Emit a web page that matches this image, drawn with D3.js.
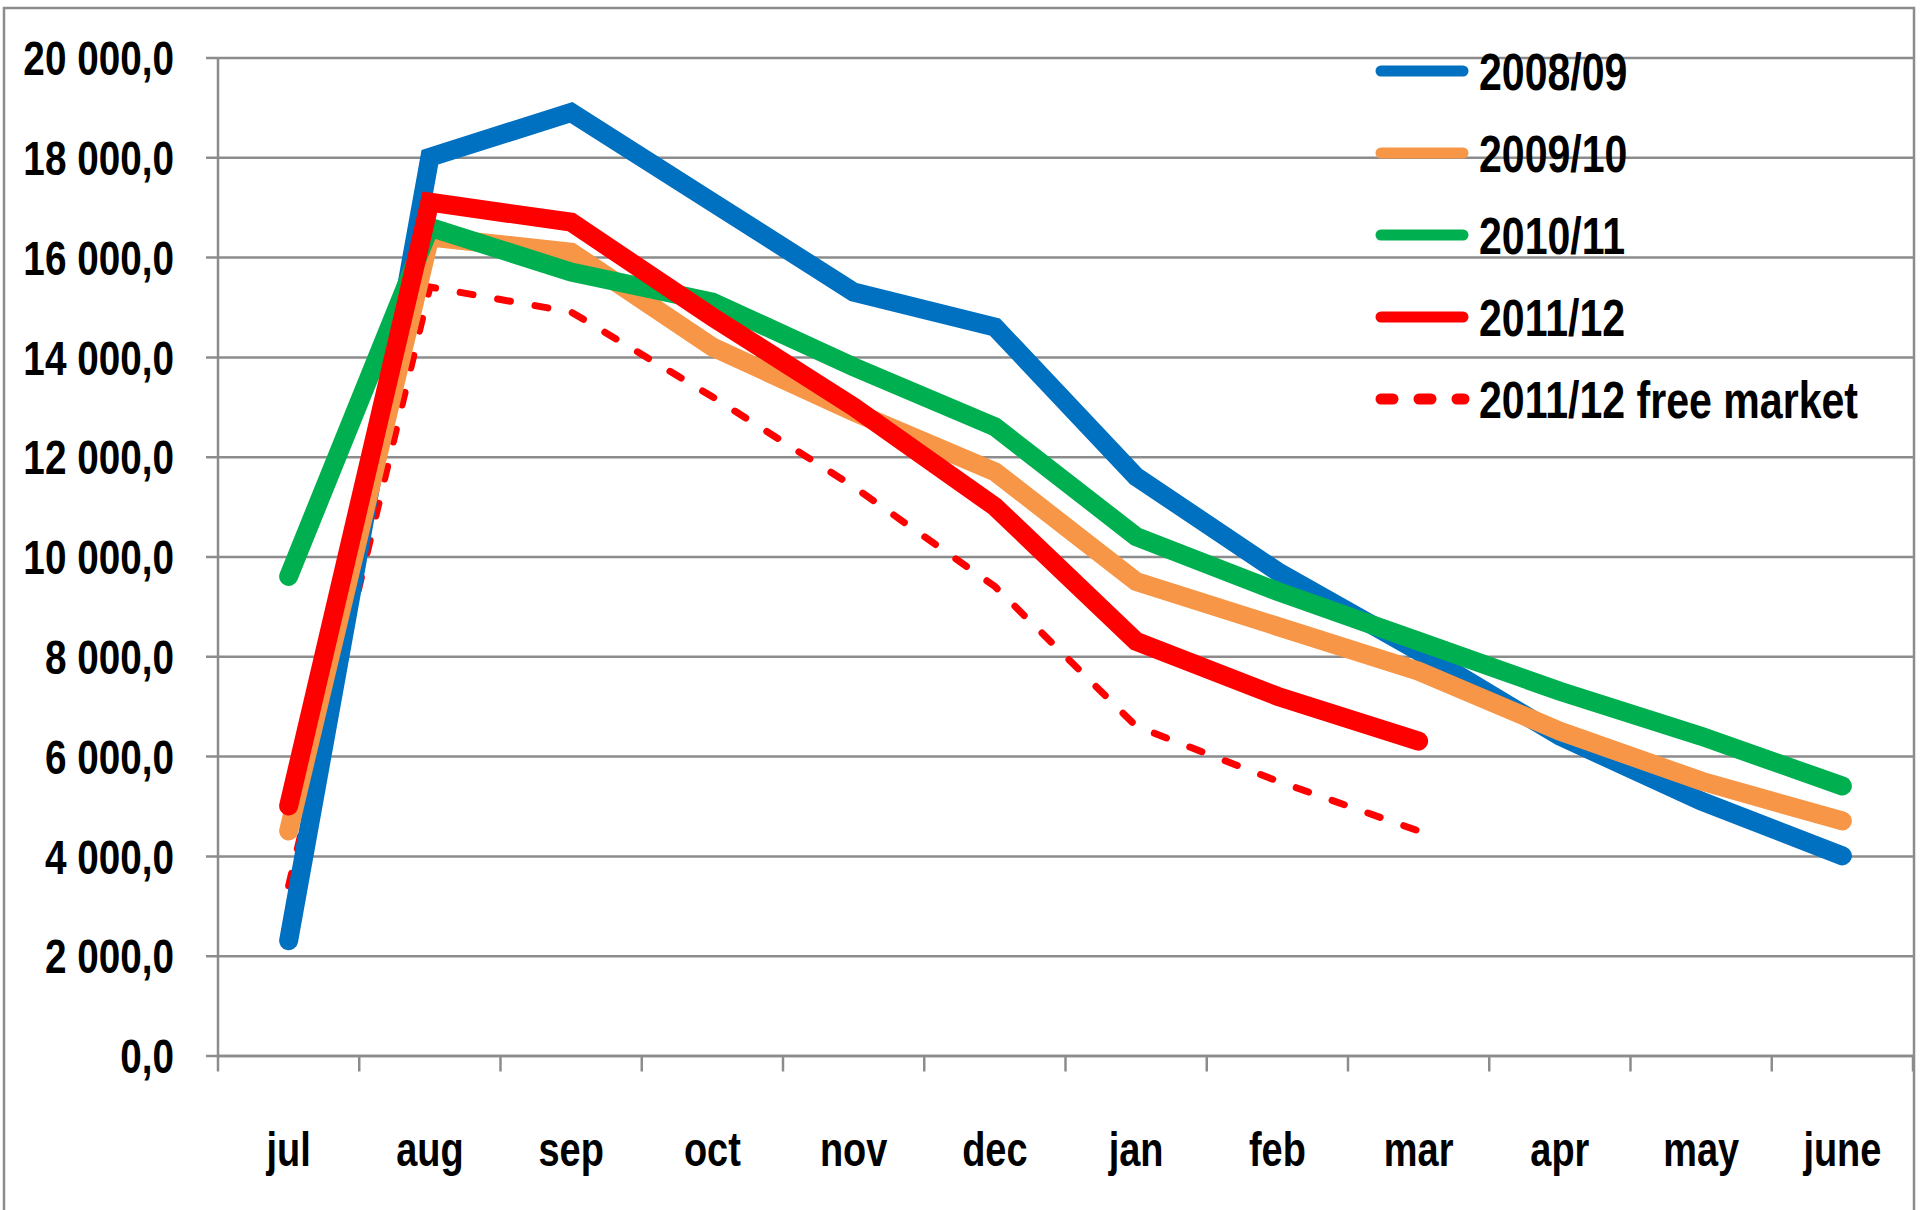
<!DOCTYPE html>
<html>
<head>
<meta charset="utf-8">
<script src="https://cdn.jsdelivr.net/npm/d3@7"></script>
<style>
  body { margin: 0; background: #fff; }
  text { font-family: "Liberation Sans", Arial, sans-serif; font-weight: bold; fill: #000; }
</style>
</head>
<body>
<div id="chart"></div>
<script>
var months = ["jul", "aug", "sep", "oct", "nov", "dec", "jan", "feb", "mar", "apr", "may", "june"];
var yTicks = [0, 2000, 4000, 6000, 8000, 10000, 12000, 14000, 16000, 18000, 20000];

var s0809 = [2300, 18000, 18900, 17100, 15300, 14600, 11600, 9700, 8100, 6400, 5100, 4000];
var s0910 = [4500, 16400, 16100, 14200, 12900, 11700, 9500, 8600, 7700, 6500, 5500, 4700];
var s1011 = [9600, 16600, 15700, 15100, 13800, 12600, 10400, 9300, 8300, 7300, 6400, 5400];
var s1112 = [5000, 17100, 16700, 14800, 13000, 11000, 8300, 7200, 6300];
var s1112free = [3400, 15400, 14900, 13200, 11400, 9400, 6600, 5500, 4500];

var seriesNames = ["2008/09", "2009/10", "2010/11", "2011/12", "2011/12 free market"];

var svgWidth = 1920;
var svgHeight = 1210;

// the reference font is a condensed bold face, squeeze a regular one
var squeeze = 0.79;

var margin = { top: 57.5, right: 7, bottom: 154.5, left: 218 };
var chartWidth = svgWidth - margin.left - margin.right;
var chartHeight = svgHeight - margin.top - margin.bottom;

var svg = d3.select("#chart")
    .append("svg")
    .attr("width", svgWidth)
    .attr("height", svgHeight);

// outer frame
svg.append("rect")
    .attr("x", 4)
    .attr("y", 8)
    .attr("width", 1910)
    .attr("height", 1230)
    .attr("fill", "none")
    .attr("stroke", "#8c8c8c")
    .attr("stroke-width", 2.5);

var chartGroup = svg.append("g")
    .attr("transform", `translate(${margin.left}, ${margin.top})`);

var xBand = d3.scaleBand()
    .domain(months)
    .range([0, chartWidth]);

var yScale = d3.scaleLinear()
    .domain([0, 20000])
    .range([chartHeight, 0]);

var fmt = function(v) {
    var s = d3.format(",.1f")(v);
    return s.replace(/,/g, " ").replace(".", ",");
};

// gridlines + left axis ticks
var leftAxis = d3.axisLeft(yScale)
    .tickValues(yTicks)
    .tickSize(-chartWidth)
    .tickFormat("");

chartGroup.append("g")
    .attr("class", "grid")
    .call(leftAxis)
    .call(g => g.select(".domain").remove())
    .call(g => g.selectAll("line")
        .attr("stroke", "#8c8c8c")
        .attr("stroke-width", 2.5)
        .attr("x1", -12));

chartGroup.selectAll("text.ylab")
    .data(yTicks)
    .enter()
    .append("text")
    .classed("ylab", true)
    .attr("transform", d => `translate(-44, ${yScale(d)}) scale(${squeeze}, 1)`)
    .attr("dy", "0.36em")
    .attr("text-anchor", "end")
    .attr("font-size", "49px")
    .text(d => fmt(d));

// y axis line
chartGroup.append("line")
    .attr("x1", 0).attr("x2", 0)
    .attr("y1", 0).attr("y2", chartHeight)
    .attr("stroke", "#8c8c8c")
    .attr("stroke-width", 2.5);

// bottom axis
var bottomAxis = d3.axisBottom(xBand)
    .tickSize(0)
    .tickFormat("");

chartGroup.append("g")
    .attr("transform", `translate(0, ${chartHeight})`)
    .call(bottomAxis)
    .call(g => g.select(".domain")
        .attr("stroke", "#8c8c8c")
        .attr("stroke-width", 2.5));

var boundaries = d3.range(months.length + 1).map(i => i * xBand.bandwidth());
chartGroup.selectAll("line.xtick")
    .data(boundaries)
    .enter()
    .append("line")
    .classed("xtick", true)
    .attr("x1", d => d).attr("x2", d => d)
    .attr("y1", chartHeight).attr("y2", chartHeight + 16)
    .attr("stroke", "#8c8c8c")
    .attr("stroke-width", 2.5);

chartGroup.selectAll("text.xlab")
    .data(months)
    .enter()
    .append("text")
    .classed("xlab", true)
    .attr("transform", d => `translate(${xBand(d) + xBand.bandwidth() / 2}, ${chartHeight + 110}) scale(${squeeze}, 1)`)
    .attr("text-anchor", "middle")
    .attr("font-size", "48px")
    .text(d => d);

var line = d3.line()
    .x((d, i) => xBand(months[i]) + xBand.bandwidth() / 2)
    .y(d => yScale(d));

var series = [
    { name: seriesNames[4], values: s1112free, color: "#ff0000", width: 7, dash: "13 25" },
    { name: seriesNames[0], values: s0809, color: "#0070c0", width: 19, dash: null },
    { name: seriesNames[1], values: s0910, color: "#f79646", width: 19, dash: null },
    { name: seriesNames[2], values: s1011, color: "#00b050", width: 19, dash: null },
    { name: seriesNames[3], values: s1112, color: "#ff0000", width: 19, dash: null }
];

series.forEach(function(s) {
    chartGroup.append("path")
        .datum(s.values)
        .attr("d", line)
        .attr("fill", "none")
        .attr("stroke", s.color)
        .attr("stroke-width", s.width)
        .attr("stroke-linejoin", "miter")
        .attr("stroke-miterlimit", 3)
        .attr("stroke-linecap", "round")
        .attr("stroke-dasharray", s.dash);
});

// legend
var legendOrder = [1, 2, 3, 4, 0];
var legend = svg.append("g")
    .attr("transform", "translate(1376, 71)");

legendOrder.forEach(function(idx, i) {
    var s = series[idx];
    var gy = i * 82;
    legend.append("line")
        .attr("x1", 5).attr("x2", s.dash ? 88 : 87)
        .attr("y1", gy).attr("y2", gy)
        .attr("stroke", s.color)
        .attr("stroke-width", 11)
        .attr("stroke-linecap", "round")
        .attr("stroke-dasharray", s.dash ? "12 26" : null);
    legend.append("text")
        .attr("transform", `translate(103, ${gy}) scale(${squeeze}, 1)`)
        .attr("dy", "0.36em")
        .attr("font-size", "52px")
        .text(s.name);
});
</script>
</body>
</html>
